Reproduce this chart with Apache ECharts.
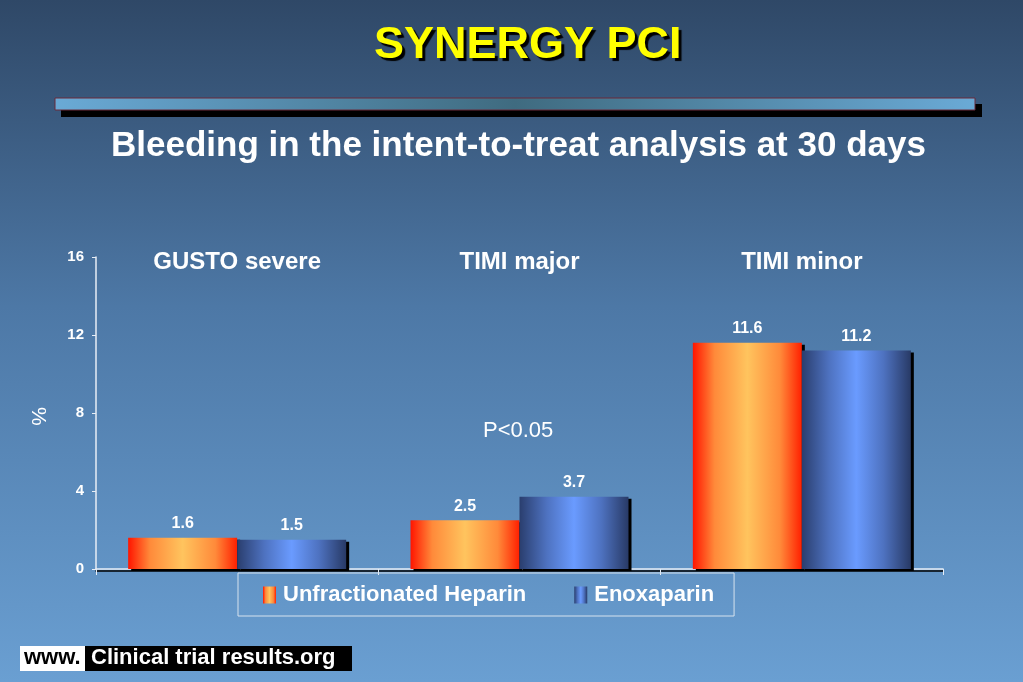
<!DOCTYPE html>
<html><head><meta charset="utf-8">
<script src="https://cdn.jsdelivr.net/npm/echarts@6/dist/echarts.min.js"></script>
<style>html,body{margin:0;padding:0;}#c{width:1023px;height:682px;}</style>
</head><body><div id="c"></div>
<script>
const categories = ['GUSTO severe', 'TIMI major', 'TIMI minor'];
const heparin = [1.6, 2.5, 11.6];
const enoxaparin = [1.5, 3.7, 11.2];
const seriesNames = ['Unfractionated Heparin', 'Enoxaparin'];
const yTicks = { min: 0, max: 16, interval: 4 };

const FONT = '"Liberation Sans", Arial, sans-serif';
const shadowTxt = { textShadowColor: '#000', textShadowOffsetX: 1.5, textShadowOffsetY: 1.5, textShadowBlur: 0 };

const hepGrad = new echarts.graphic.LinearGradient(0, 0, 1, 0, [
  { offset: 0, color: '#ff1500' }, { offset: 0.2, color: '#ff8a3a' },
  { offset: 0.5, color: '#ffc45e' }, { offset: 0.8, color: '#ff8a3a' }, { offset: 1, color: '#ff2000' }]);
const enoGrad = new echarts.graphic.LinearGradient(0, 0, 1, 0, [
  { offset: 0, color: '#2a3e6e' }, { offset: 0.25, color: '#4e72c0' },
  { offset: 0.5, color: '#6a9bff' }, { offset: 0.75, color: '#4e72c0' }, { offset: 1, color: '#283a66' }]);

const chart = echarts.init(document.getElementById('c'));
const labelCfg = { show: true, position: 'top', color: '#fff', fontFamily: FONT, fontWeight: 'bold', fontSize: 16, distance: 6, ...shadowTxt };

chart.setOption({
  animation: false,
  backgroundColor: new echarts.graphic.LinearGradient(0, 0, 0, 1, [
    { offset: 0, color: '#2f4867' }, { offset: 0.45, color: '#4d78a6' }, { offset: 1, color: '#6a9fd2' }]),
  textStyle: { fontFamily: FONT },
  title: [
    { text: 'SYNERGY PCI', left: 369, top: 18,
      textStyle: { color: '#ffff00', fontSize: 45, fontWeight: 'bold', fontFamily: FONT,
        textShadowColor: '#000', textShadowOffsetX: 3, textShadowOffsetY: 3, textShadowBlur: 1 } },
    { text: 'Bleeding in the intent-to-treat analysis at 30 days', left: 106, top: 124,
      textStyle: { color: '#fff', fontSize: 35, fontWeight: 'bold', fontFamily: FONT } }
  ],
  graphic: [
    { type: 'rect', shape: { x: 61, y: 104, width: 921, height: 13 }, style: { fill: '#000' } },
    { type: 'rect', shape: { x: 55, y: 98, width: 920, height: 12 },
      style: { fill: new echarts.graphic.LinearGradient(0, 0, 1, 0, [
        { offset: 0, color: '#6aaad6' }, { offset: 0.5, color: '#3f6b80' }, { offset: 1, color: '#6aaad6' }]),
        stroke: '#6a2a3a', lineWidth: 1 } },
    { type: 'text', left: 27, top: 407, rotation: -Math.PI / 2,
      style: { text: '%', fill: '#fff', font: '21px ' + FONT } },
    { type: 'text', left: 483, top: 420,
      style: { text: 'P<0.05', fill: '#fff', font: '22px ' + FONT } },
    { type: 'rect', shape: { x: 20, y: 646, width: 65, height: 25 }, style: { fill: '#fff' } },
    { type: 'rect', shape: { x: 85, y: 646, width: 267, height: 25 }, style: { fill: '#000' } },
    { type: 'text', left: 24, top: 647, style: { text: 'www.', fill: '#000', font: 'bold 22px ' + FONT } },
    { type: 'text', left: 91, top: 647, style: { text: 'Clinical trial results.org', fill: '#fff', font: 'bold 22px ' + FONT } }
  ],
  legend: {
    data: seriesNames, left: 238, top: 573, padding: [11, 20, 10, 25], itemGap: 48,
    itemWidth: 13, itemHeight: 17, icon: 'rect',
    borderColor: '#d6e2ee', borderWidth: 1,
    textStyle: { color: '#fff', fontSize: 22, fontWeight: 'bold', fontFamily: FONT, padding: [0, 0, 0, 2], ...shadowTxt }
  },
  grid: { left: 96, right: 80, top: 257, bottom: 113 },
  xAxis: [
    { type: 'category', data: categories,
      axisLine: { lineStyle: { color: '#e8eef6', width: 1.5, shadowColor: '#000', shadowOffsetY: 2 } },
      axisTick: { show: true, length: 6, lineStyle: { color: '#e8eef6' } },
      axisLabel: { show: false } },
    { type: 'category', data: categories, position: 'top',
      axisLine: { show: false }, axisTick: { show: false },
      axisLabel: { inside: true, margin: 5, color: '#fff', fontSize: 24, fontWeight: 'bold', fontFamily: FONT, verticalAlign: 'middle' } }
  ],
  yAxis: {
    type: 'value', min: yTicks.min, max: yTicks.max, interval: yTicks.interval,
    axisLine: { show: true, lineStyle: { color: '#e8eef6', width: 1.5 } },
    axisTick: { show: true, length: 4, lineStyle: { color: '#e8eef6' } },
    splitLine: { show: false },
    axisLabel: { color: '#fff', fontSize: 15, fontWeight: 'bold', fontFamily: FONT, margin: 12, ...shadowTxt }
  },
  series: [
    { name: seriesNames[0], type: 'bar', data: heparin, barWidth: 109, barGap: '0%',
      itemStyle: { color: hepGrad, shadowColor: '#000', shadowOffsetX: 3, shadowOffsetY: 2, shadowBlur: 0 },
      label: labelCfg },
    { name: seriesNames[1], type: 'bar', data: enoxaparin, barWidth: 109,
      itemStyle: { color: enoGrad, shadowColor: '#000', shadowOffsetX: 3, shadowOffsetY: 2, shadowBlur: 0 },
      label: labelCfg }
  ]
});
</script></body></html>
